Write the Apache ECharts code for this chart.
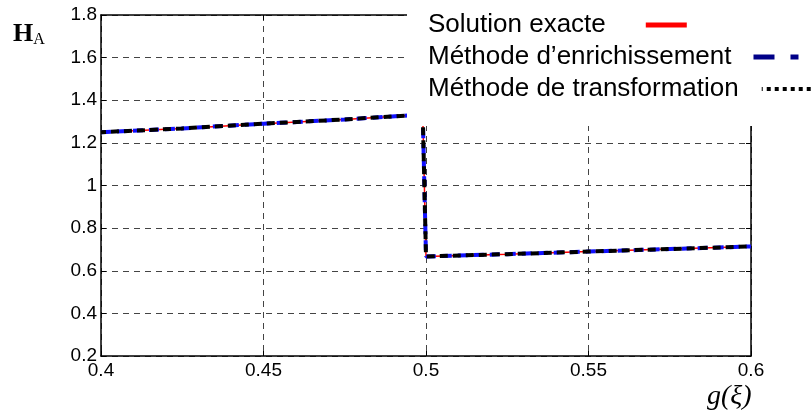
<!DOCTYPE html>
<html>
<head>
<meta charset="utf-8">
<script src="https://cdn.jsdelivr.net/npm/echarts@6/dist/echarts.min.js"></script>
<style>
html,body{margin:0;padding:0;background:#fff;}
#chart{width:812px;height:416px;}
</style>
</head>
<body>
<div id="chart"></div>
<script>
// ---- data ----
var seriesNames = ['Solution exacte', 'Méthode d’enrichissement', 'Méthode de transformation'];
var xTicks = [0.4, 0.45, 0.5, 0.55, 0.6];
var yTicks = [0.2, 0.4, 0.6, 0.8, 1, 1.2, 1.4, 1.6, 1.8];
var exactValues = [
  [0.4, 1.25], [0.425, 1.268], [0.45, 1.29], [0.475, 1.31], [0.499, 1.333],
  [0.5, 0.667], [0.525, 0.678], [0.55, 0.69], [0.575, 0.702], [0.6, 0.714]
];
var enrichValues = [
  [0.4, 1.25], [0.425, 1.268], [0.45, 1.29], [0.475, 1.31], [0.499, 1.333],
  [0.5, 0.667], [0.525, 0.678], [0.55, 0.69], [0.575, 0.702], [0.6, 0.714]
];
var transfValues = [
  [0.4, 1.25], [0.425, 1.268], [0.45, 1.29], [0.475, 1.31], [0.499, 1.333],
  [0.5, 0.667], [0.525, 0.678], [0.55, 0.69], [0.575, 0.702], [0.6, 0.714]
];

var chart = echarts.init(document.getElementById('chart'), null, {renderer: 'canvas'});

var gridDash = {color: '#444', width: 1, type: [6, 5]};
var tickFont = {fontFamily: 'Liberation Sans, Arial, sans-serif', fontSize: 19, color: '#000'};

function fmt(v) { return String(+v.toFixed(2)); }

var legendBase = {
  orient: 'horizontal',
  align: 'right',
  padding: 0,
  itemHeight: 10,
  z: 110,
  selectedMode: false,
  itemStyle: {opacity: 0},
  textStyle: {fontFamily: 'Liberation Sans, Arial, sans-serif', fontSize: 26, color: '#000'}
};

var option = {
  backgroundColor: '#fff',
  animation: false,
  grid: {left: 101, top: 15, width: 650, height: 341, containLabel: false},
  xAxis: [{
    type: 'value', min: 0.4, max: 0.6, interval: 0.05, position: 'bottom',
    axisLine: {show: true, onZero: false, lineStyle: {color: '#000', width: 1.5}},
    axisTick: {show: true, inside: true, length: 5, lineStyle: {color: '#000'}},
    axisLabel: Object.assign({margin: 5, formatter: fmt}, tickFont),
    splitLine: {show: true, lineStyle: gridDash}
  }, {
    type: 'value', min: 0.4, max: 0.6, interval: 0.05, position: 'top',
    axisLine: {show: true, onZero: false, lineStyle: {color: '#000', width: 1.5}},
    axisTick: {show: true, inside: true, length: 5, lineStyle: {color: '#000'}},
    axisLabel: {show: false}, splitLine: {show: false}
  }],
  yAxis: [{
    type: 'value', min: 0.2, max: 1.8, interval: 0.2, position: 'left',
    axisLine: {show: true, onZero: false, lineStyle: {color: '#000', width: 1.5}},
    axisTick: {show: true, inside: true, length: 5, lineStyle: {color: '#000'}},
    axisLabel: Object.assign({margin: 4, formatter: fmt}, tickFont),
    splitLine: {show: true, lineStyle: gridDash}
  }, {
    type: 'value', min: 0.2, max: 1.8, interval: 0.2, position: 'right',
    axisLine: {show: true, onZero: false, lineStyle: {color: '#000', width: 1.5}},
    axisTick: {show: true, inside: true, length: 5, lineStyle: {color: '#000'}},
    axisLabel: {show: false}, splitLine: {show: false}
  }],
  legend: [
    Object.assign({}, legendBase, {
      left: 428, top: 12, itemWidth: 41, data: [seriesNames[0]],
      lineStyle: {color: '#ff0000', width: 5, type: 'solid'},
      textStyle: Object.assign({}, legendBase.textStyle, {padding: [0, 35, 0, 0]})
    }),
    Object.assign({}, legendBase, {
      left: 428, top: 44, itemWidth: 45, data: [seriesNames[1]],
      lineStyle: {color: '#000088', width: 5, type: [21, 16]},
      textStyle: Object.assign({}, legendBase.textStyle, {padding: [0, 17, 0, 0]})
    }),
    Object.assign({}, legendBase, {
      left: 428, top: 76, itemWidth: 50, data: [seriesNames[2]],
      lineStyle: {color: '#000', width: 4, type: [4, 4]},
      textStyle: Object.assign({}, legendBase.textStyle, {padding: [0, 18, 0, 0]})
    })
  ],
  graphic: [
    {type: 'rect', z: 100, shape: {x: 407, y: 0, width: 405, height: 126}, style: {fill: '#fff'}},
    {type: 'text', z: 100, left: 13, top: 21, style: {
      text: '{h|H}{a|A}',
      rich: {
        h: {fontFamily: 'Liberation Serif, Times New Roman, serif', fontWeight: 'bold', fontSize: 26, fill: '#000'},
        a: {fontFamily: 'Liberation Serif, Times New Roman, serif', fontSize: 16, fill: '#000', padding: [12, 0, 0, 0]}
      }
    }},
    {type: 'text', z: 100, left: 707, top: 383, style: {
      text: 'g(ξ)', fontFamily: 'Liberation Serif, Times New Roman, serif', fontStyle: 'italic', fontSize: 28, fill: '#000'
    }}
  ],
  series: [
    {name: seriesNames[0], type: 'line', data: exactValues, symbol: 'none', z: 3,
     lineStyle: {color: '#ff0000', width: 1.5, type: 'solid'}, itemStyle: {color: '#ff0000'}},
    {name: seriesNames[1], type: 'line', data: enrichValues, symbol: 'none', z: 4,
     lineStyle: {color: '#1010ff', width: 4, type: [10, 6]}, itemStyle: {color: '#1010ff'}},
    {name: seriesNames[2], type: 'line', data: transfValues, symbol: 'none', z: 5,
     lineStyle: {color: '#000', width: 4, type: [8, 5], dashOffset: 3}, itemStyle: {color: '#000'}}
  ]
};
chart.setOption(option);
</script>
</body>
</html>
